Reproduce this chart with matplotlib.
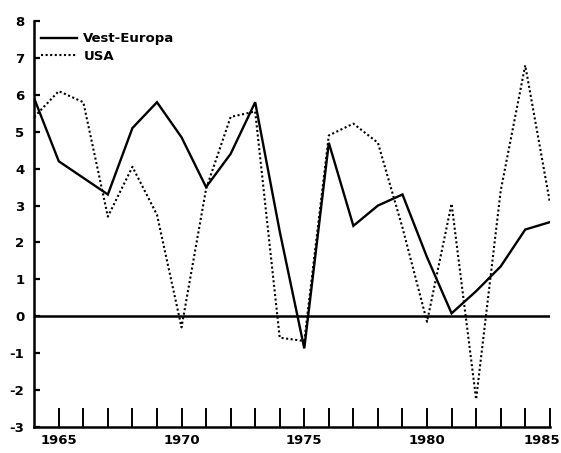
import matplotlib.pyplot as plt
import matplotlib.transforms as mtransforms

# Years and growth rates (%)
years = list(range(1964, 1986))
vest_europa = [5.9, 4.2, 3.75, 3.3, 5.1, 5.8, 4.85, 3.5, 4.4, 5.8, 2.3,
               -0.87, 4.7, 2.45, 3.0, 3.3, 1.6, 0.08, 0.68, 1.35, 2.35, 2.55]
usa = [5.4, 6.1, 5.8, 2.7, 4.05, 2.75, -0.3, 3.45, 5.4, 5.55, -0.58,
       -0.67, 4.9, 5.22, 4.7, 2.4, -0.15, 3.05, -2.25, 3.4, 6.8, 3.1]

ytick_vals = list(range(-3, 9))
xtick_labels = [1965, 1970, 1975, 1980, 1985]

plt.rcParams['font.family'] = 'DejaVu Sans'
plt.rcParams['font.weight'] = 'bold'
plt.rcParams['axes.unicode_minus'] = False

fig = plt.figure(figsize=(5.61, 4.53), dpi=100)
ax = fig.add_axes([0.061, 0.0574, 0.919, 0.8962])

# Zero line
ax.axhline(0, color='black', linewidth=1.8, zorder=1)

# Series
l1, = ax.plot(years, vest_europa, color='black', linewidth=1.7,
              solid_joinstyle='miter')
l2, = ax.plot(years, usa, color='black', linewidth=1.5, linestyle=(0, (1, 1.2)))

ax.set_xlim(1964, 1985)
ax.set_ylim(-3, 8)

ax.spines['top'].set_visible(False)
ax.spines['right'].set_visible(False)
ax.spines['left'].set_linewidth(1.8)
ax.spines['bottom'].set_linewidth(1.8)

# y axis: short inward ticks
ax.set_yticks(ytick_vals)
ax.tick_params(axis='y', direction='in', length=4, width=1.6, pad=7,
               labelsize=9.5)

# x axis: long inward ticks every year, labels every five years
ax.set_xticks(years[1:])
ax.set_xticklabels([str(y) if y in xtick_labels else '' for y in years[1:]])
ax.tick_params(axis='x', direction='in', length=14, width=1.4, pad=5,
               labelsize=9.5)

for lab in ax.get_xticklabels() + ax.get_yticklabels():
    lab.set_fontweight('bold')

# last year label sits a little to the left so it stays inside the figure
shift = mtransforms.ScaledTranslation(-8 / 100, 0, fig.dpi_scale_trans)
last = ax.get_xticklabels()[-1]
last.set_transform(last.get_transform() + shift)

leg = ax.legend([l1, l2], ['Vest-Europa', 'USA'], loc='upper left',
                frameon=False, bbox_to_anchor=(0.003, 0.985),
                handlelength=2.7, handletextpad=0.5, labelspacing=0.35,
                borderaxespad=0.0, prop={'size': 9.5, 'weight': 'bold'})

fig.savefig('out.png', dpi=100)
